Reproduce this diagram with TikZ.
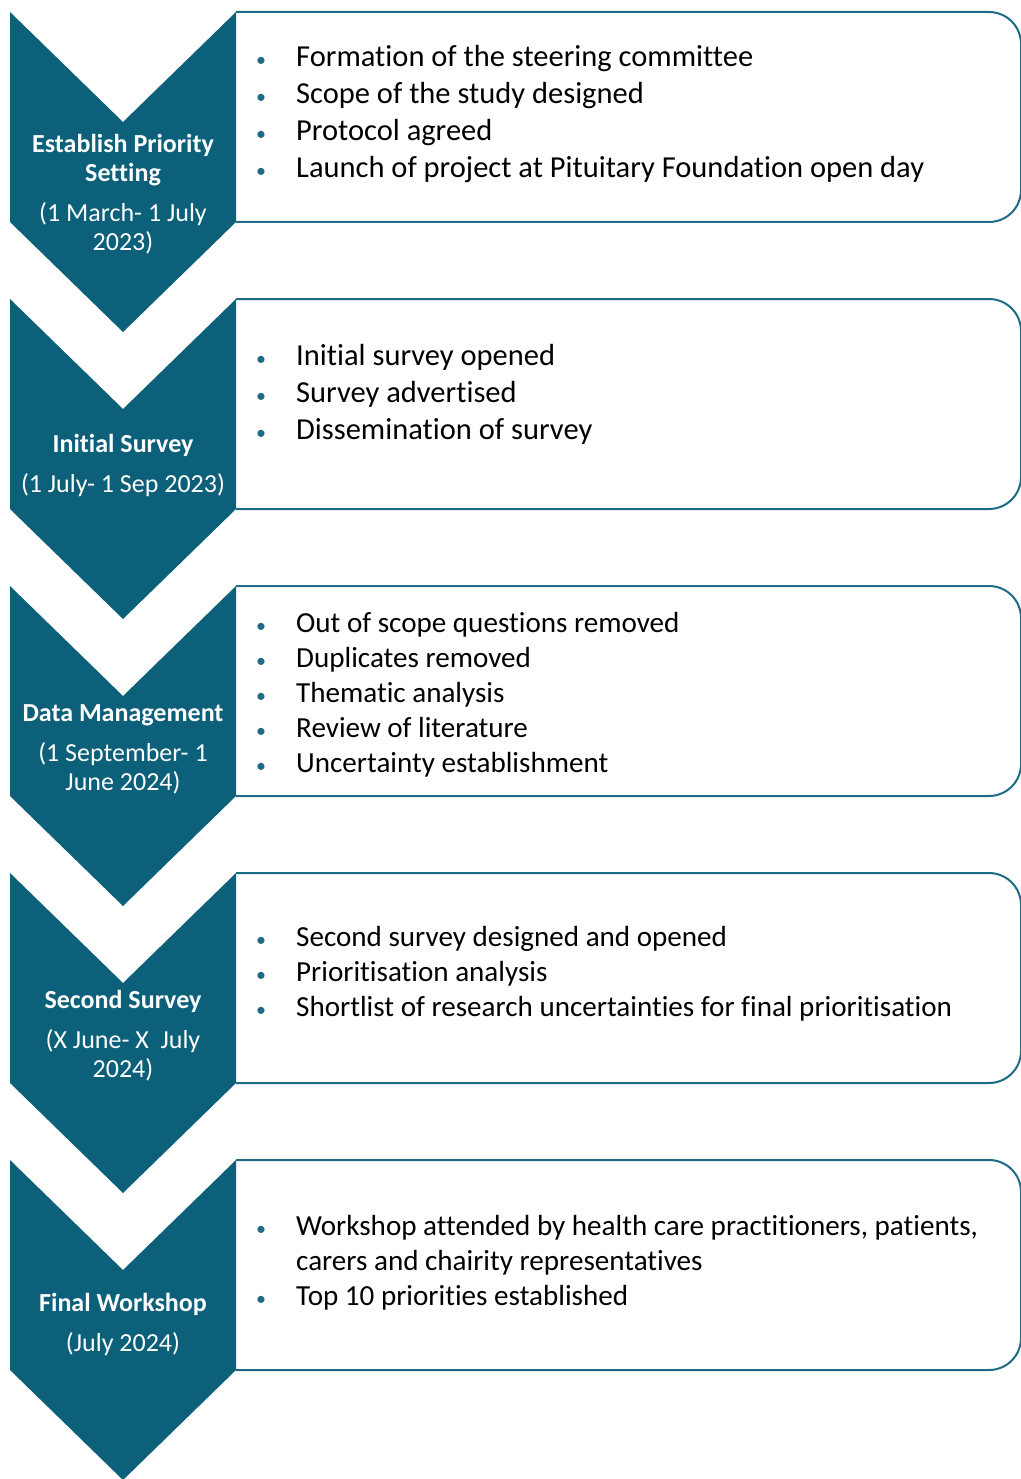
\documentclass[tikz,border=0pt]{standalone}
\usepackage{fontspec}
\setmainfont{Carlito}[Ligatures=NoCommon]
\usetikzlibrary{positioning}
\definecolor{stageteal}{RGB}{12,96,121}
\definecolor{boxteal}{RGB}{28,108,134}
\newcommand{\itm}{\makebox[40pt][l]{\textcolor{boxteal}{\fontsize{20}{20}\selectfont\textbullet}}}

\begin{document}
\begin{tikzpicture}[x=1pt,y=-1pt,
    stage/.style={fill=stageteal},
    panel/.style={draw=boxteal,line width=2pt,fill=white,rounded corners=32pt},
    stagetext/.style={text=white,align=center,inner sep=0pt,font=\fontsize{26}{29}\selectfont},
    itemtext/.style={anchor=west,inner sep=0pt}]
  \useasboundingbox (0,0) rectangle (1020,1479);

  \foreach \t in {12,299,586,873,1160}{
    \draw[panel] (236,\t) -- (1021,\t) -- (1021,\t+210) -- (236,\t+210);
    \fill[stage] (10,\t) -- (123,\t+110) -- (236,\t) -- (236,\t+210) -- (123,\t+320) -- (10,\t+210) -- cycle;
  }

  \node[stagetext] (stage1) at (123,194) {\textbf{Establish Priority}\\\textbf{Setting}\\[11pt](1 March- 1 July\\2023)};
  \node[stagetext] (stage2) at (123,465) {\textbf{Initial Survey}\\[11pt](1 July- 1 Sep 2023)};
  \node[stagetext] (stage3) at (123,749) {\textbf{Data Management}\\[11pt](1 September- 1\\June 2024)};
  \node[stagetext] (stage4) at (123,1036) {\textbf{Second Survey}\\[11pt](X June- X\ \ July\\2024)};
  \node[stagetext] (stage5) at (123,1324) {\textbf{Final Workshop}\\[11pt](July 2024)};

  \node[itemtext] (items1) at (256,115) {\fontsize{30.5}{37}\selectfont
    \begin{tabular}{@{}l@{}l@{}}
      \itm & Formation of the steering committee\\
      \itm & Scope of the study designed\\
      \itm & Protocol agreed\\
      \itm & Launch of project at Pituitary Foundation open day
    \end{tabular}};
  \node[itemtext] (items2) at (256,395) {\fontsize{30.5}{37}\selectfont
    \begin{tabular}{@{}l@{}l@{}}
      \itm & Initial survey opened\\
      \itm & Survey advertised\\
      \itm & Dissemination of survey
    \end{tabular}};
  \node[itemtext] (items3) at (256,695) {\fontsize{29.1}{35}\selectfont
    \begin{tabular}{@{}l@{}l@{}}
      \itm & Out of scope questions removed\\
      \itm & Duplicates removed\\
      \itm & Thematic analysis\\
      \itm & Review of literature\\
      \itm & Uncertainty establishment
    \end{tabular}};
  \node[itemtext] (items4) at (256,974) {\fontsize{29.1}{35}\selectfont
    \begin{tabular}{@{}l@{}l@{}}
      \itm & Second survey designed and opened\\
      \itm & Prioritisation analysis\\
      \itm & Shortlist of research uncertainties for final prioritisation
    \end{tabular}};
  \node[itemtext] (items5) at (256,1263) {\fontsize{29.1}{35}\selectfont
    \begin{tabular}{@{}l@{}l@{}}
      \itm & Workshop attended by health care practitioners, patients,\\
           & carers and chairity representatives\\
      \itm & Top 10 priorities established
    \end{tabular}};
\end{tikzpicture}
\end{document}
